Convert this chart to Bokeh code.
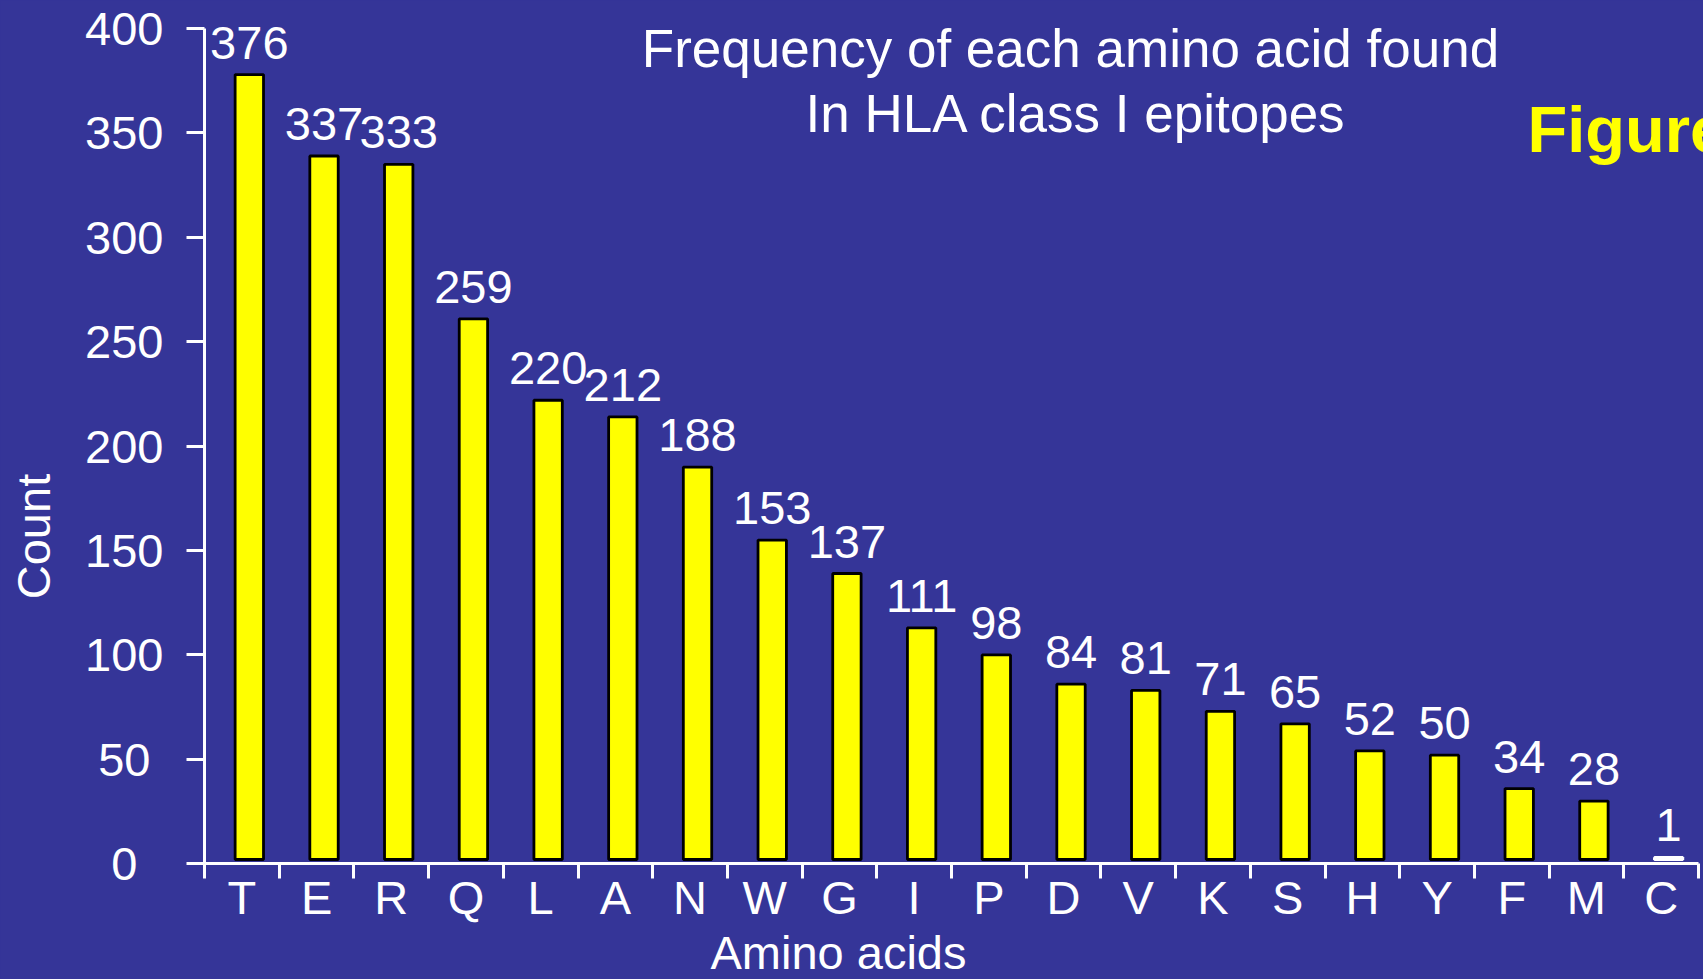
import math
from bokeh.plotting import figure
from bokeh.models import (ColumnDataSource, Range1d, LinearAxis, FixedTicker, Label)
from bokeh.transform import dodge
from bokeh.core.properties import value
from bokeh.embed import file_html
from bokeh.resources import INLINE

# ---- data ----
acids = ["T", "E", "R", "Q", "L", "A", "N", "W", "G", "I",
         "P", "D", "V", "K", "S", "H", "Y", "F", "M", "C"]
counts = [376, 337, 333, 259, 220, 212, 188, 153, 137, 111,
          98, 84, 81, 71, 65, 52, 50, 34, 28, 1]
y_ticks = [0, 50, 100, 150, 200, 250, 300, 350, 400]
title_lines = ["Frequency of each amino acid found", "In HLA class I epitopes"]
x_label = "Amino acids"
y_label = "Count"
corner_text = "Figure"

BG = "#353598"
FONT = "Liberation Sans"

W, H = 1703, 979
# pixel geometry of the plotting area inside the canvas
X0, X1 = 204, 1698      # x data 0 .. n
Y0, Y1 = 863, 28        # y data 0 .. 400
BAR_LIFT_PX = 4         # bars in the original sit slightly above the axis line

n = len(acids)
ymax = y_ticks[-1]
kx = (X1 - X0) / n
ky = (Y0 - Y1) / ymax

src = ColumnDataSource(dict(
    x=[i + 0.5 for i in range(n)],
    count=counts,
    label=[str(c) for c in counts],
    fill=["#FFFF00" if c > 1 else "white" for c in counts],
    line=["black" if c > 1 else "white" for c in counts],
))

ystart = -(H - Y0) / ky
yend = ymax + Y1 / ky
lift = BAR_LIFT_PX / ky

# frame covers the whole canvas; axes are drawn at fixed locations inside it
p = figure(width=W, height=H, output_backend="svg", toolbar_location=None,
           x_range=Range1d(-X0 / kx, n + (W - X1) / kx),
           y_range=Range1d(ystart, yend),
           x_axis_type=None, y_axis_type=None, min_border=0)
p.extra_y_ranges = {"bars": Range1d(ystart - lift, yend - lift)}
p.background_fill_color = BG
p.border_fill_color = BG
p.outline_line_color = None
p.xgrid.visible = False
p.ygrid.visible = False

# y axis
yax = LinearAxis(ticker=FixedTicker(ticks=y_ticks, minor_ticks=[]),
                 fixed_location=0, bounds=(0, ymax))
pad = {1: "\u00a0\u00a0", 2: "\u00a0", 3: ""}
yax.major_label_overrides = {t: str(t) + pad[len(str(t))] for t in y_ticks}
yax.axis_line_color = "white"
yax.axis_line_width = 3
yax.major_tick_line_color = "white"
yax.major_tick_line_width = 3
yax.major_tick_in = 0
yax.major_tick_out = 18
yax.minor_tick_line_color = None
yax.major_label_standoff = 23
yax.major_label_text_color = "white"
yax.major_label_text_font = FONT
yax.major_label_text_font_size = "47px"
p.add_layout(yax, "left")

# x axis: labels at category centres, ticks at category boundaries
xax = LinearAxis(ticker=FixedTicker(ticks=[i + 0.5 for i in range(n)],
                                    minor_ticks=list(range(n + 1))),
                 fixed_location=0, bounds=(0, n))
xax.major_label_overrides = {i + 0.5: a for i, a in enumerate(acids)}
xax.axis_line_color = "white"
xax.axis_line_width = 3
xax.major_tick_line_color = None
xax.major_tick_in = 0
xax.major_tick_out = 0
xax.minor_tick_line_color = "white"
xax.minor_tick_line_width = 3
xax.minor_tick_in = 0
xax.minor_tick_out = 15
xax.major_label_standoff = -8
xax.major_label_text_color = "white"
xax.major_label_text_font = FONT
xax.major_label_text_font_size = "47px"
p.add_layout(xax, "below")

# bars
p.vbar(x=dodge("x", 0.1), top="count", bottom=0, width=0.38, source=src,
       fill_color="fill", line_color="line", line_width=2.8, y_range_name="bars")

# value labels
p.text(x=dodge("x", 0.1), y="count", text="label", source=src, y_range_name="bars",
       text_align="center", text_baseline="alphabetic", y_offset=-32,
       text_color="white", text_font=value(FONT), text_font_size="47px")

# free texts (screen units = canvas pixels from the bottom-left corner)
def add_label(text, cx, cy, size, color="white", bold=False, align="center", angle=0.0):
    p.add_layout(Label(x=cx, y=H - cy, x_units="screen", y_units="screen",
                       text=text, text_align=align, text_baseline="alphabetic",
                       text_color=color, text_font=FONT, text_font_size=size,
                       text_font_style="bold" if bold else "normal", angle=angle))

add_label(title_lines[0], 1070, 48, "53px")
add_label(title_lines[1], 1076, 113, "53px")
add_label(corner_text, 1527, 129, "65px", color="#FFFF00", bold=True, align="left")
add_label(x_label, 838, 952, "47px")
add_label(y_label, 33, 536, "47px", angle=math.pi / 2)

template = """
{% block postamble %}
<style>html, body { margin: 0; padding: 0; background: #353598; overflow: hidden; }</style>
{% endblock %}
"""
open("out.html", "w").write(file_html(p, INLINE, "chart", template=template))
